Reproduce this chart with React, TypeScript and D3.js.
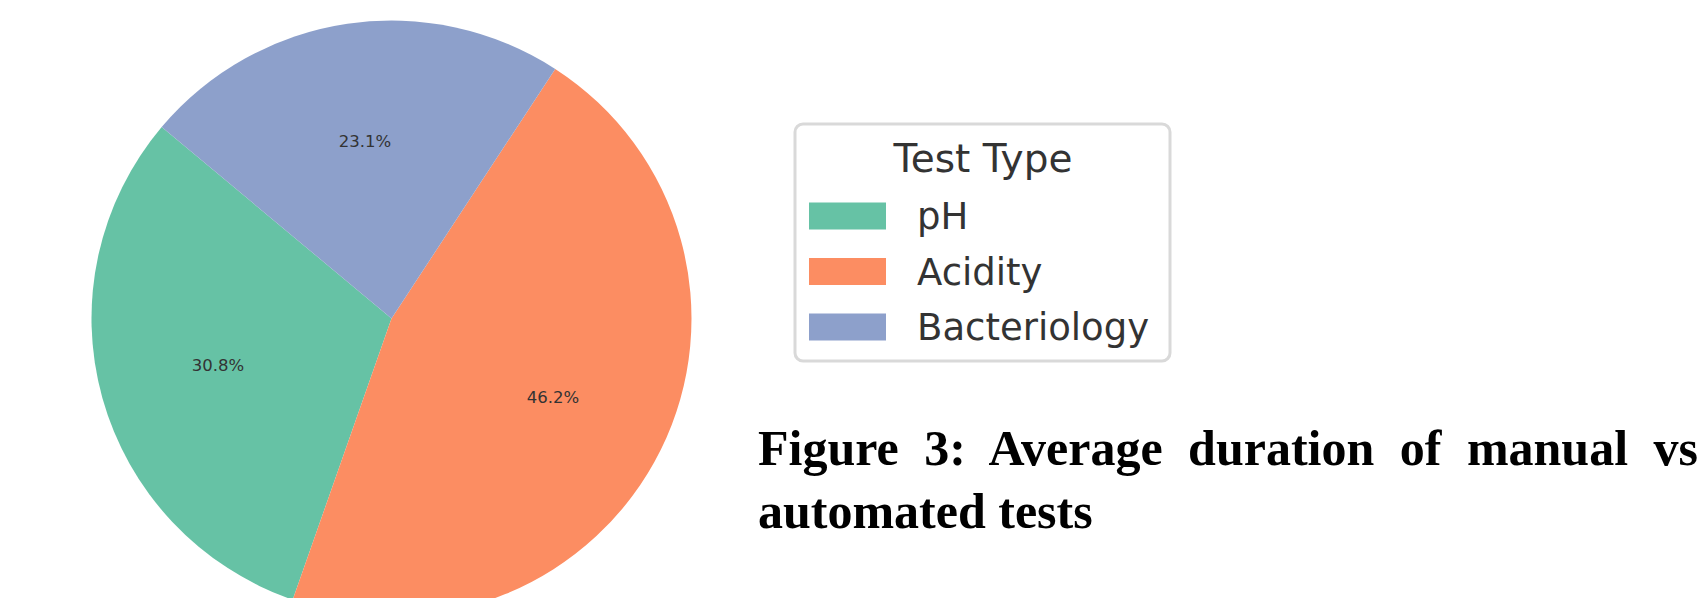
import React, { useEffect, useRef } from 'react';
import * as d3 from 'd3';

// DATA
const testTypes = ['pH', 'Acidity', 'Bacteriology'];
const avgDurations = [4, 6, 3]; // 30.8% / 46.2% / 23.1%
const sliceColors = ['#66c2a5', '#fc8d62', '#8da0cb'];
const legendTitle = 'Test Type';
const captionLines = ['Figure 3: Average duration of manual vs', 'automated tests'];

const width = 1707;
const height = 598;

export default function App() {
    const ref = useRef<SVGSVGElement | null>(null);

    useEffect(() => {
        const svg = d3.select(ref.current);
        svg.selectAll('*').remove();

        // SETTINGS
        const cx = 391.5;
        const cy = 318.5;
        const radius = 300;
        const startDeg = 140; // matplotlib-style startangle, counter clockwise
        const textColor = '#333333';
        const font = '"DejaVu Sans", sans-serif';

        // PIE
        const pie = d3.pie<number>()
            .value(d => d)
            .sort(null)
            .startAngle((90 - startDeg) * Math.PI / 180)
            .endAngle((90 - startDeg - 360) * Math.PI / 180);

        const arcs = pie(avgDurations);
        const total = d3.sum(avgDurations);

        const arc = d3.arc<d3.PieArcDatum<number>>()
            .innerRadius(0)
            .outerRadius(radius);

        const labelArc = d3.arc<d3.PieArcDatum<number>>()
            .innerRadius(radius * 0.6)
            .outerRadius(radius * 0.6);

        const graph = svg.append('g')
            .attr('transform', `translate(${cx}, ${cy}) scale(1, 0.993)`);

        graph.selectAll('path')
            .data(arcs)
            .enter()
            .append('path')
                .attr('d', arc)
                .attr('fill', (d, i) => sliceColors[i]);

        graph.selectAll('text')
            .data(arcs)
            .enter()
            .append('text')
                .attr('transform', d => `translate(${labelArc.centroid(d)})`)
                .attr('text-anchor', 'middle')
                .attr('dominant-baseline', 'central')
                .attr('font-family', font)
                .attr('font-size', 16.5)
                .attr('fill', textColor)
                .text(d => (d.data / total * 100).toFixed(1) + '%');

        // LEGEND
        const legend = svg.append('g');

        legend.append('rect')
            .attr('x', 795)
            .attr('y', 124)
            .attr('width', 375)
            .attr('height', 237)
            .attr('rx', 8)
            .attr('fill', '#fff')
            .attr('stroke', '#d9d9d9')
            .attr('stroke-width', 3);

        legend.append('text')
            .attr('x', 983)
            .attr('y', 172)
            .attr('text-anchor', 'middle')
            .attr('font-family', font)
            .attr('font-size', 39)
            .attr('fill', textColor)
            .text(legendTitle);

        const rowY = d3.scalePoint<string>()
            .domain(testTypes)
            .range([216, 327]);

        const rows = legend.selectAll('g.row')
            .data(testTypes)
            .enter()
            .append('g')
                .attr('class', 'row')
                .attr('transform', d => `translate(0, ${rowY(d)})`);

        rows.append('rect')
            .attr('x', 809)
            .attr('y', -13.5)
            .attr('width', 77)
            .attr('height', 27)
            .attr('fill', (d, i) => sliceColors[i]);

        rows.append('text')
            .attr('x', 917)
            .attr('y', 13)
            .attr('font-family', font)
            .attr('font-size', 37)
            .attr('fill', textColor)
            .text(d => d);

        // CAPTION (first line justified out to the right edge)
        svg.selectAll('text.caption')
            .data(captionLines)
            .enter()
            .append('text')
                .attr('class', 'caption')
                .attr('x', 758)
                .attr('y', (d, i) => 465 + i * 63)
                .attr('font-family', '"Liberation Serif", "Times New Roman", serif')
                .attr('font-weight', 'bold')
                .attr('font-size', 50)
                .attr('fill', '#000')
                .style('word-spacing', (d, i) => (i === 0 ? '13px' : '0px'))
                .text(d => d);
    }, []);

    return (
        <svg
            ref={ref}
            width={width}
            height={height}
            style={{ position: 'absolute', left: 0, top: 0, background: '#fff' }}
        />
    );
}
